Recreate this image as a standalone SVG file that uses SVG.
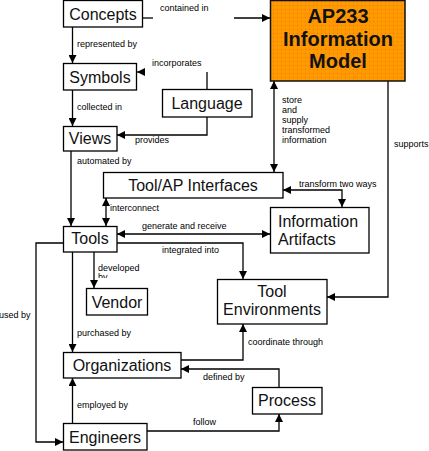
<svg xmlns="http://www.w3.org/2000/svg" width="429" height="451" viewBox="0 0 429 451">
<style>
.box{fill:#fff;stroke:#000;stroke-width:1.3}
.nt{font-family:"Liberation Sans",Arial,sans-serif;font-size:16px;fill:#111;text-anchor:middle}
.nl{font-family:"Liberation Sans",Arial,sans-serif;font-size:16px;fill:#111;text-anchor:start}
.lb{font-family:"Liberation Sans",Arial,sans-serif;font-size:9px;fill:#000}
.c{fill:none;stroke:#000;stroke-width:1.3}
.a{marker-end:url(#ah)}
.d{marker-start:url(#ah);marker-end:url(#ah)}
</style>
<defs>
<marker id="ah" viewBox="0 0 8 8" refX="8" refY="4" markerWidth="8" markerHeight="8" markerUnits="userSpaceOnUse" orient="auto-start-reverse">
<path d="M0,0 L8,4 L0,8 z" fill="#000"/>
</marker>
<pattern id="dots" width="4" height="4" patternUnits="userSpaceOnUse">
<rect width="4" height="4" fill="#FF9900"/>
<rect x="1" y="1" width="1" height="1" fill="#E8601A" opacity="0.7"/>
</pattern>
<clipPath id="clipby"><rect x="90" y="270" width="60" height="8"/></clipPath>
</defs>
<rect width="429" height="451" fill="#fff"/>
<g id="connectors">
<path class="c" d="M143,18 H153"/>
<path class="c a" d="M234,18 H270"/>
<path class="c a" d="M72.5,27 V63"/>
<path class="c a" d="M72.5,90 V126"/>
<path class="c" d="M207,89 V72"/>
<path class="c a" d="M144,72 H137"/>
<path class="c a" d="M207,117 V135 H117"/>
<path class="c a" d="M71,151 V226"/>
<path class="c d" d="M106,198 V226"/>
<path class="c d" d="M274,81 V172"/>
<path class="c a" d="M388,81 V297 H327"/>
<path class="c d" d="M283,190 H342 V207"/>
<path class="c d" d="M117,234 H270"/>
<path class="c a" d="M117,243 H243 V279"/>
<path class="c a" d="M94,252 V288"/>
<path class="c a" d="M72.5,252 V352"/>
<path class="c a" d="M63,243 H36 V442 H63"/>
<path class="c a" d="M72.5,423 V378"/>
<path class="c a" d="M147,431 H279 V414"/>
<path class="c a" d="M279,387 V369 H181"/>
<path class="c a" d="M181,360 H243 V324"/>
<g class="lb">
<text x="160" y="11">contained in</text>
<text x="77" y="47">represented by</text>
<text x="152" y="66">incorporates</text>
<text x="77" y="110">collected in</text>
<text x="135" y="143">provides</text>
<text x="77" y="164">automated by</text>
<text x="282" y="103">store</text>
<text x="282" y="113">and</text>
<text x="282" y="123">supply</text>
<text x="282" y="133">transformed</text>
<text x="282" y="143">information</text>
<text x="394" y="147">supports</text>
<text x="110" y="211">interconnect</text>
<text x="299" y="187">transform two ways</text>
<text x="142" y="229">generate and receive</text>
<text x="162" y="253">integrated into</text>
<text x="98" y="271">developed</text>
<text x="98" y="280" clip-path="url(#clipby)">by</text>
<text x="-1" y="318">used by</text>
<text x="77" y="336">purchased by</text>
<text x="248" y="345">coordinate through</text>
<text x="203" y="380">defined by</text>
<text x="77" y="408">employed by</text>
<text x="193" y="425">follow</text>
</g>
</g>
<g id="concepts"><rect class="box" x="63.5" y="0.5" width="79" height="26.5"/><text class="nt" x="103" y="20">Concepts</text></g>
<g id="ap233"><rect x="270.5" y="0.5" width="134.5" height="80.5" fill="url(#dots)" stroke="#111" stroke-width="1.5"/>
<g font-family="Liberation Sans,Arial,sans-serif" font-size="20" font-weight="bold" text-anchor="middle" fill="#111">
<text x="338" y="23">AP233</text><text x="338" y="46">Information</text><text x="338" y="68">Model</text></g></g>
<g id="symbols"><rect class="box" x="63.5" y="63.5" width="73" height="26.5"/><text class="nt" x="100" y="83">Symbols</text></g>
<g id="language"><rect class="box" x="162.5" y="89.5" width="89.5" height="27.5"/><text class="nt" x="207" y="109">Language</text></g>
<g id="views"><rect class="box" x="63.5" y="126.5" width="53.5" height="24.5"/><text class="nt" x="90" y="144">Views</text></g>
<g id="toolap"><rect class="box" x="103.5" y="172.5" width="179.5" height="25.5"/><text class="nt" x="193" y="191">Tool/AP Interfaces</text></g>
<g id="tools"><rect class="box" x="63.5" y="226.5" width="53.5" height="25.5"/><text class="nt" x="90" y="244">Tools</text></g>
<g id="artifacts"><rect class="box" x="270.5" y="207.5" width="98.5" height="45.5"/><text class="nl" x="278" y="227">Information</text><text class="nl" x="278" y="245">Artifacts</text></g>
<g id="vendor"><rect class="box" x="86.5" y="288.5" width="61" height="26.5"/><text class="nt" x="117" y="308">Vendor</text></g>
<g id="toolenv"><rect class="box" x="217.5" y="279.5" width="109.5" height="44.5"/><text class="nt" x="272" y="297">Tool</text><text class="nt" x="272" y="315">Environments</text></g>
<g id="organizations"><rect class="box" x="63.5" y="352.5" width="117.5" height="25.5"/><text class="nt" x="122" y="371">Organizations</text></g>
<g id="process"><rect class="box" x="252.5" y="387.5" width="69.5" height="26.5"/><text class="nt" x="287" y="406">Process</text></g>
<g id="engineers"><rect class="box" x="63.5" y="423.5" width="83.5" height="26.5"/><text class="nt" x="105" y="443">Engineers</text></g>
</svg>
